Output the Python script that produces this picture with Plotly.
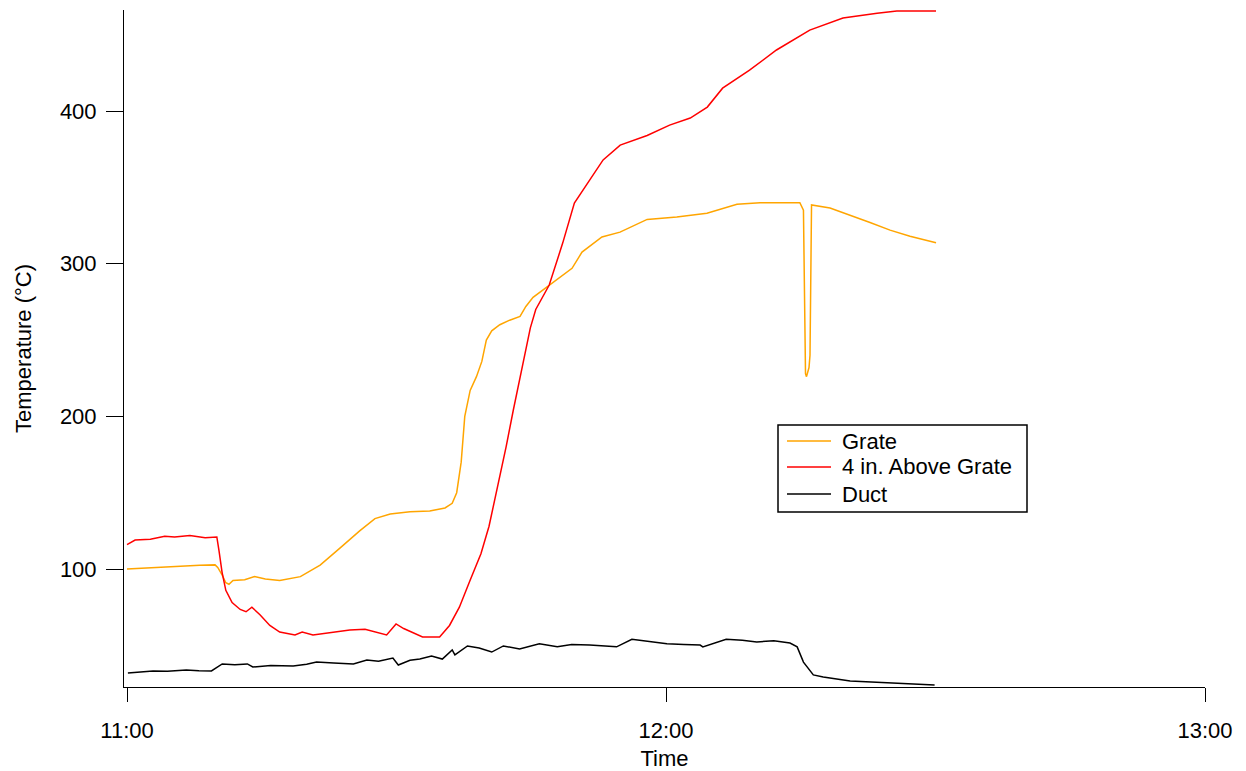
import pandas as pd
import plotly.graph_objects as go

# minutes after 11:00 and temperatures (°C)
grate_min = [0, 1.5, 3.7, 5.9, 8.1, 9.8, 10.1, 10.6, 11.0, 11.35, 11.8, 13.1, 14.2, 15.4, 17.0,
             19.3, 21.5, 23.7, 25.9, 27.6, 29.3, 31.5, 33.7, 35.4, 36.2, 36.7, 37.2, 37.6, 38.2,
             38.9, 39.5, 40.0, 40.6, 41.5, 42.6, 43.75, 44.4, 45.2, 46.98, 49.54, 50.65, 52.87,
             54.88, 57.9, 61.2, 64.56, 67.9, 70.47, 72.7, 74.9, 75.3, 75.42, 75.53, 75.64, 75.92,
             76.03, 76.11, 76.2, 78.26, 80.49, 82.71, 84.94, 87.16, 90.06]
grate_val = [100, 100.5, 101.5, 102, 102.5, 102.7, 101, 96, 91, 90, 92.5, 93, 95, 93.5, 92.5,
             95, 102.6, 113.7, 125, 133, 136, 137.5, 138, 140, 143, 150, 170, 200, 217,
             226, 236, 250, 256, 260, 263, 265.5, 272, 278, 286, 297, 307.6, 317.5,
             320.7, 329, 330.6, 333, 339, 340, 340, 340, 335, 273, 228, 226, 232,
             240, 290, 338.5, 336.5, 332, 327, 322, 318, 313.7]

above_min = [0, 0.9, 2.6, 4.2, 5.3, 7.0, 8.7, 10.0, 10.24, 10.58, 11.0, 11.7, 12.6, 13.25, 13.9,
             14.8, 15.9, 17.0, 18.7, 19.5, 20.7, 24.8, 26.5, 28.9, 29.95, 30.8, 32.9, 34.8, 35.9,
             37.0, 38.15, 39.4, 40.3, 41.3, 42.2, 43.0, 44.0, 44.9, 45.5, 46.5, 47.0, 48.5, 49.8,
             51.5, 53.0, 54.9, 57.9, 60.4, 62.7, 64.6, 66.3, 69.3, 72.3, 76.0, 79.7, 83.5, 85.7,
             90.06]
above_val = [116, 119, 119.5, 121.5, 121, 122, 120.5, 121, 112, 98, 86, 78, 73.5, 72, 75,
             70, 63, 58.7, 56.8, 58.7, 56.8, 60, 60.5, 56.8, 64, 61, 55.5, 55.5, 63,
             75, 92, 110, 128, 155, 180, 204, 232, 258, 270, 281, 286, 313.5, 339.7,
             354.8, 368, 377.7, 384, 390.8, 395.4, 402.6, 415, 426.8, 440, 453, 461, 464, 465.5,
             465.5]

duct_min = [0.1, 1.5, 2.9, 4.5, 6.6, 8.0, 9.4, 10.6, 12.0, 13.4, 14.0, 16.0, 18.5, 20.0, 21.1,
            23.0, 25.2, 26.7, 28.0, 29.6, 30.2, 31.5, 32.6, 33.9, 34.8, 35.1, 36.2, 36.5, 37.9,
            39.2, 40.6, 41.9, 43.7, 45.9, 47.9, 49.5, 51.5, 53.0, 54.5, 56.2, 58.6, 60.1, 62.0,
            63.8, 64.1, 65.5, 66.7, 68.5, 70.1, 72.0, 73.8, 74.6, 75.3, 76.4, 77.5, 80.5, 84.9,
            89.9]
duct_val = [31.9, 32.6, 33.2, 33.0, 33.8, 33.4, 33.2, 37.8, 37.2, 37.8, 35.8, 36.8, 36.5, 37.6, 39,
            38.4, 37.8, 40.4, 39.6, 41.7, 37.1, 40.2, 41, 43, 41.7, 41, 47, 43.7, 49.6,
            48.2, 45.6, 49.6, 47.6, 51, 49, 50.6, 50.2, 49.8, 49, 54, 52.2, 51, 50.6,
            50.2, 49, 51.8, 54, 53.4, 52.2, 53, 51.5, 49, 39, 30.6, 29.3, 26.6, 25.3,
            24]

series_names = ["Grate", "4 in. Above Grate", "Duct"]
series_colors = ["#FFA500", "#FF0000", "#000000"]
x_tick_labels = ["11:00", "12:00", "13:00"]
y_tick_vals = [100, 200, 300, 400]

base = pd.Timestamp("2000-01-01 11:00:00")


def to_time(minutes):
    return [base + pd.Timedelta(minutes=m) for m in minutes]


FONT = "Liberation Sans, Arial, sans-serif"
FS = 22
W, H = 1246, 771
ML, MR, MT, MB = 124, 41, 10, 84
PW, PH = W - ML - MR, H - MT - MB


def px(xp):
    return (xp - ML) / PW


def py(yp):
    return (H - MB - yp) / PH


fig = go.Figure()
for name, mins, vals, col in zip(series_names,
                                 [grate_min, above_min, duct_min],
                                 [grate_val, above_val, duct_val],
                                 series_colors):
    fig.add_trace(go.Scatter(x=to_time(mins), y=vals, mode="lines", name=name,
                             line=dict(color=col, width=1.5), showlegend=False))

# legend box drawn by hand (Igor-style)
shapes = [dict(type="rect", xref="paper", yref="paper",
               x0=px(778), x1=px(1027), y0=py(512), y1=py(425),
               line=dict(color="black", width=1.5), fillcolor="white", layer="above")]
annotations = []
row_y = [441, 467, 494]
for name, col, ry in zip(series_names, series_colors, row_y):
    shapes.append(dict(type="line", xref="paper", yref="paper",
                       x0=px(787), x1=px(831), y0=py(ry), y1=py(ry),
                       line=dict(color=col, width=1.5), layer="above"))
    annotations.append(dict(text=name, xref="paper", yref="paper",
                            x=px(840), y=py(ry), xanchor="left", yanchor="middle",
                            showarrow=False, font=dict(family=FONT, size=FS, color="black")))

tick_times = [base + pd.Timedelta(hours=i) for i in range(len(x_tick_labels))]

fig.update_layout(
    width=W, height=H,
    paper_bgcolor="white", plot_bgcolor="white",
    margin=dict(l=ML, r=MR, t=MT, b=MB),
    font=dict(family=FONT, size=FS, color="black"),
    showlegend=False,
    shapes=shapes,
    annotations=annotations,
    xaxis=dict(
        range=[base - pd.Timedelta(minutes=0.334), base + pd.Timedelta(minutes=120)],
        tickvals=tick_times, ticktext=x_tick_labels,
        showline=True, linecolor="black", linewidth=1,
        ticks="outside", ticklen=14, tickcolor="black", tickwidth=1,
        ticklabelstandoff=10,
        showgrid=False, zeroline=False, automargin=False,
        title=dict(text="Time", standoff=10, font=dict(size=FS)),
    ),
    yaxis=dict(
        range=[22.7, 466.2],
        tickvals=y_tick_vals,
        showline=True, linecolor="black", linewidth=1,
        ticks="outside", ticklen=17, tickcolor="black", tickwidth=1,
        ticklabelstandoff=5,
        showgrid=False, zeroline=False, automargin=False,
        title=dict(text="Temperature (°C)", standoff=22, font=dict(size=FS)),
    ),
)

fig.write_html("out.html")
